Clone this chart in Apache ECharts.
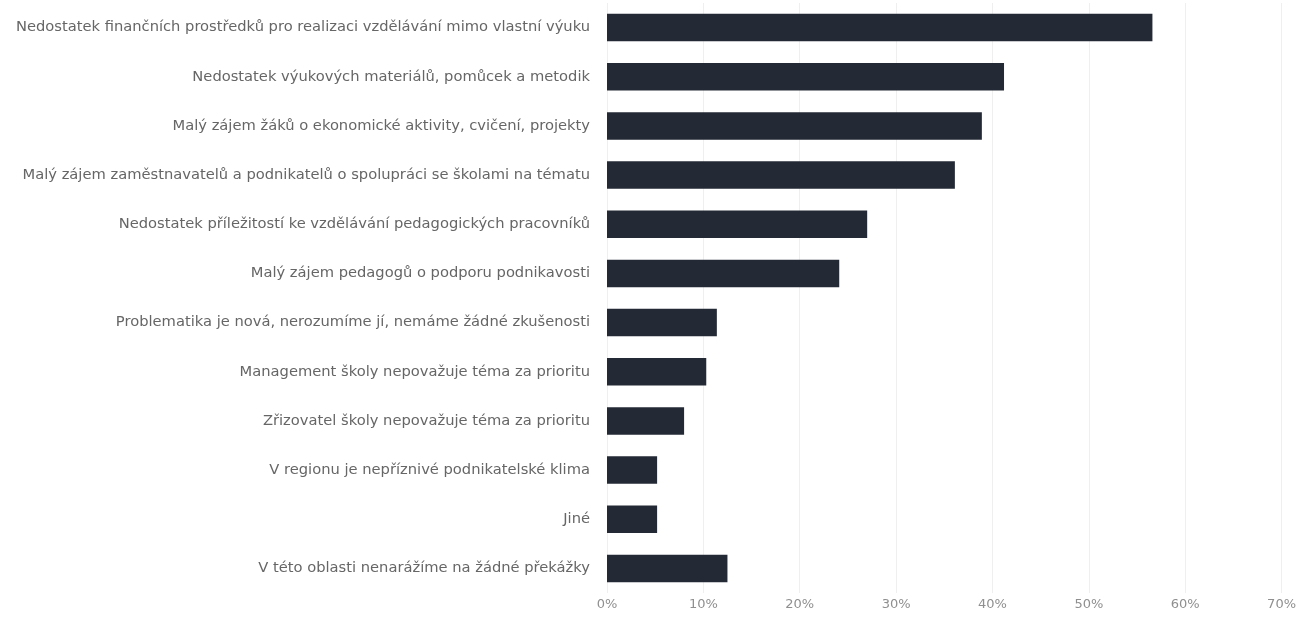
<!DOCTYPE html>
<html>
<head>
<meta charset="utf-8">
<script src="https://cdn.jsdelivr.net/npm/echarts@6/dist/echarts.min.js"></script>
<style>
html,body{margin:0;padding:0;background:#ffffff;}
#chart{width:1299px;height:623px;}
</style>
</head>
<body>
<div id="chart"></div>
<script>
const categories = [
  "Nedostatek finančních prostředků pro realizaci vzdělávání mimo vlastní výuku",
  "Nedostatek výukových materiálů, pomůcek a metodik",
  "Malý zájem žáků o ekonomické aktivity, cvičení, projekty",
  "Malý zájem zaměstnavatelů a podnikatelů o spolupráci se školami na tématu",
  "Nedostatek příležitostí ke vzdělávání pedagogických pracovníků",
  "Malý zájem pedagogů o podporu podnikavosti",
  "Problematika je nová, nerozumíme jí, nemáme žádné zkušenosti",
  "Management školy nepovažuje téma za prioritu",
  "Zřizovatel školy nepovažuje téma za prioritu",
  "V regionu je nepříznivé podnikatelské klima",
  "Jiné",
  "V této oblasti nenarážíme na žádné překážky"
];
const values = [56.6, 41.2, 38.9, 36.1, 27.0, 24.1, 11.4, 10.3, 8.0, 5.2, 5.2, 12.5];
const xTicks = [0, 10, 20, 30, 40, 50, 60, 70];

const chart = echarts.init(document.getElementById('chart'), null, {renderer: 'canvas'});
chart.setOption({
  animation: false,
  backgroundColor: '#ffffff',
  grid: {left: 607, right: 15, top: 3, bottom: 30, containLabel: false},
  xAxis: {
    type: 'value',
    min: xTicks[0],
    max: xTicks[xTicks.length - 1],
    interval: 10,
    axisLine: {show: false},
    axisTick: {show: false},
    splitLine: {show: true, lineStyle: {color: '#efefef', width: 1}},
    axisLabel: {
      formatter: v => v + '%',
      color: '#8f8f8f',
      fontFamily: 'DejaVu Sans',
      fontSize: 13,
      margin: 5
    }
  },
  yAxis: {
    type: 'category',
    inverse: true,
    data: categories,
    axisLine: {show: false},
    axisTick: {show: false},
    splitLine: {show: false},
    axisLabel: {
      color: '#666666',
      fontFamily: 'DejaVu Sans',
      fontSize: 14.7,
      margin: 17
    }
  },
  series: [{
    type: 'bar',
    data: values,
    barCategoryGap: '44%',
    itemStyle: {color: '#242a35'}
  }]
});
</script>
</body>
</html>
